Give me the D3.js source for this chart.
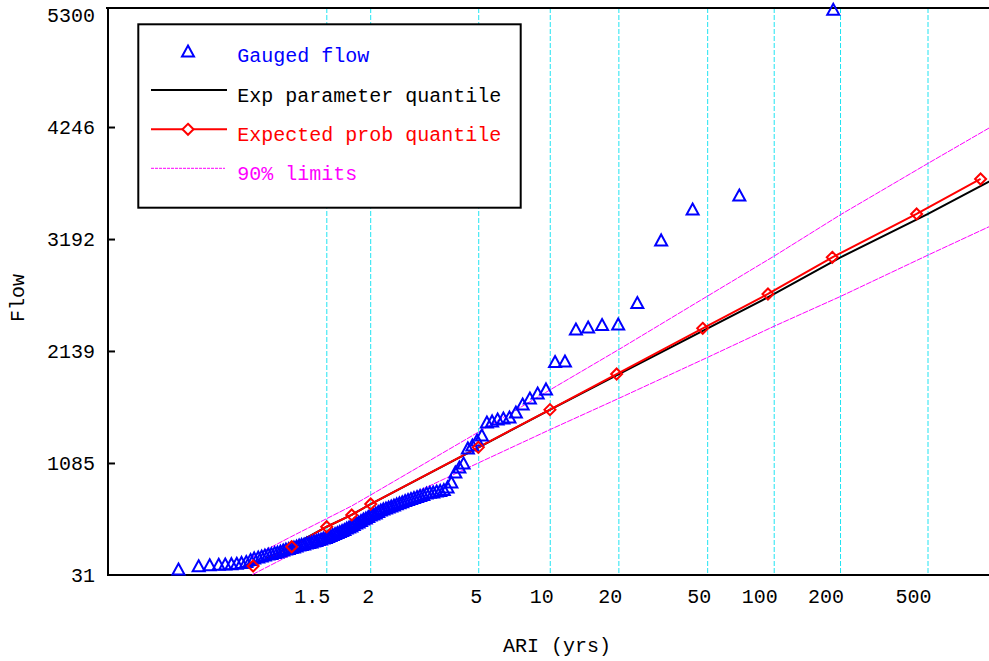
<!DOCTYPE html>
<html>
<head>
<meta charset="utf-8">
<script src="https://cdn.jsdelivr.net/npm/d3@7"></script>
<style>
  body { margin: 0; background: #fff; }
  svg text { font-family: "Liberation Mono", "Courier New", monospace; font-size: 20px; }
</style>
</head>
<body>
<script>
// axis ticks
const ariTicks = [1.5, 2, 5, 10, 20, 50, 100, 200, 500];
const ariLabels = ['1.5', '2', '5', '10', '20', '50', '100', '200', '500'];
const flowTicks = [31, 1085, 2139, 3192, 4246, 5300];

// gauged annual maxima, ranked, with their plotting ARI
const gaugedAri = [
  185.3, 69.50, 42.77, 30.89, 24.17, 19.86, 16.85, 14.63, 12.93, 11.58,
  10.49, 9.586, 8.825, 8.176, 7.616, 7.128, 6.699, 6.318, 5.978, 5.673,
  5.398, 5.148, 4.920, 4.712, 4.520, 4.344, 4.180, 4.029, 3.888, 3.757,
  3.634, 3.519, 3.411, 3.310, 3.214, 3.124, 3.038, 2.957, 2.881, 2.808,
  2.739, 2.673, 2.610, 2.550, 2.493, 2.439, 2.386, 2.336, 2.288, 2.242,
  2.198, 2.155, 2.114, 2.075, 2.037, 2.000, 1.965, 1.931, 1.898, 1.866,
  1.835, 1.805, 1.776, 1.748, 1.721, 1.695, 1.670, 1.645, 1.621, 1.598,
  1.575, 1.553, 1.532, 1.511, 1.491, 1.471, 1.452, 1.433, 1.415, 1.397,
  1.380, 1.363, 1.346, 1.330, 1.314, 1.299, 1.284, 1.269, 1.255, 1.241,
  1.227, 1.214, 1.201, 1.188, 1.176, 1.163, 1.151, 1.139, 1.128, 1.117,
  1.105, 1.095, 1.084, 1.073, 1.063, 1.053, 1.043, 1.034, 1.024, 1.015,
  1.0055
];
const gaugedFlow = [
  5345, 3597, 3465, 3174, 2585, 2383, 2378, 2355, 2336, 2035,
  2030, 1772, 1734, 1687, 1630, 1555, 1508, 1499, 1489, 1471,
  1461, 1339, 1292, 1245, 1217, 1075, 1038, 991, 897, 850,
  826, 817, 812, 803, 800, 793, 779, 770, 760, 751,
  741, 732, 722, 711, 701, 691, 680, 671, 661, 652,
  643, 633, 619, 605, 596, 586, 572, 558, 548, 534,
  520, 511, 497, 483, 473, 464, 450, 440, 431, 421,
  412, 403, 393, 384, 374, 370, 360, 356, 346, 341,
  332, 327, 323, 313, 309, 304, 294, 285, 280, 271,
  266, 257, 247, 238, 233, 224, 219, 210, 200, 191,
  182, 167, 148, 140, 132, 128, 125, 122, 118, 108,
  78
];

// fitted quantiles and 90% limits
const quantAri = [1.1, 1.25, 1.5, 1.75, 2, 5, 10, 20, 50, 100, 200, 500, 1000];
const quantFlow = [116, 297, 485, 596, 699, 1232, 1587, 1922, 2352, 2675, 3020, 3428, 3757];
const upperFlow = [200, 388, 562, 680, 784, 1377, 1774, 2153, 2656, 3032, 3421, 3904, 4264];
const lowerFlow = [35, 219, 403, 525, 610, 1087, 1400, 1693, 2079, 2372, 2652, 3041, 3330];

// expected probability quantiles
const expAri = [1.102, 1.257, 1.499, 1.752, 2.0, 4.98, 9.97, 19.55, 47.5, 93.7, 183.5, 443.8, 867.8];
const expFlow = [116, 297, 485, 596, 699, 1232, 1587, 1922, 2352, 2675, 3020, 3428, 3757];

const width = 989;
const height = 661;
const plotLeft = 108, plotTop = 8, plotBottom = 575, plotRight = 989;
const monoFont = '"Liberation Mono", "Courier New", monospace';

const gumbel = t => -Math.log(-Math.log(1 - 1 / t));

const x = d3.scaleLinear().domain([gumbel(2), gumbel(500)]).range([370.7, 928]);
const y = d3.scaleLinear().domain([31, 5300]).range([575, 15]);

const svg = d3.select('body')
    .append('svg')
    .attr('width', width)
    .attr('height', height);

svg.append('clipPath').attr('id', 'plot')
    .append('rect')
    .attr('x', plotLeft).attr('y', plotTop)
    .attr('width', plotRight - plotLeft).attr('height', plotBottom - plotTop);

// cyan grid
svg.append('g')
    .selectAll('line')
    .data(ariTicks)
    .enter()
    .append('line')
    .attr('x1', d => x(gumbel(d))).attr('x2', d => x(gumbel(d)))
    .attr('y1', plotTop).attr('y2', plotBottom)
    .attr('stroke', '#20e4f2')
    .attr('stroke-width', 1)
    .attr('stroke-dasharray', '5,2');

// x axis labels
svg.append('g')
    .attr('transform', `translate(0,${plotBottom})`)
    .call(d3.axisBottom(x)
        .tickValues(ariTicks.map(gumbel))
        .tickFormat((d, i) => ariLabels[i])
        .tickSize(0)
        .tickPadding(14))
    .call(g => g.select('.domain').remove())
    .call(g => g.selectAll('text')
        .attr('text-anchor', 'end')
        .attr('dx', 3)
        .attr('fill', '#000')
        .style('font-size', '20px')
        .style('font-family', monoFont));

// y axis, ticks point inward
svg.append('g')
    .attr('transform', `translate(${plotLeft},0)`)
    .call(d3.axisLeft(y)
        .tickValues(flowTicks)
        .tickFormat(d3.format('d'))
        .tickSize(-7)
        .tickPadding(13))
    .call(g => g.select('.domain').remove())
    .call(g => g.selectAll('.tick line')
        .attr('stroke', '#000')
        .attr('stroke-width', 2)
        .attr('opacity', d => (d === 31 || d === 5300) ? 0 : 1))
    .call(g => g.selectAll('text')
        .attr('fill', '#000')
        .style('font-size', '20px')
        .style('font-family', monoFont));

// frame
svg.append('path')
    .attr('d', `M${plotLeft - 2},${plotTop}H${plotRight}M${plotLeft},${plotTop}V${plotBottom}H${plotRight}`)
    .attr('fill', 'none')
    .attr('stroke', '#000')
    .attr('stroke-width', 2);

svg.append('text')
    .attr('transform', 'translate(24,298) rotate(-90)')
    .attr('text-anchor', 'middle')
    .text('Flow');

svg.append('text')
    .attr('x', 557).attr('y', 652)
    .attr('text-anchor', 'middle')
    .text('ARI (yrs)');

// legend
const legend = svg.append('g');
legend.append('rect')
    .attr('x', 138.3).attr('y', 24.3)
    .attr('width', 382.4).attr('height', 183.4)
    .attr('fill', '#fff')
    .attr('stroke', '#000')
    .attr('stroke-width', 2);

const triangle = 'M0,-6.5L6,4.5L-6,4.5Z';
const diamond = 'M0,-5.5L5.5,0L0,5.5L-5.5,0Z';

legend.append('path')
    .attr('d', triangle)
    .attr('transform', 'translate(188,52)')
    .attr('fill', 'none').attr('stroke', '#0000ff').attr('stroke-width', 2);
legend.append('line')
    .attr('x1', 151).attr('x2', 227).attr('y1', 90).attr('y2', 90)
    .attr('stroke', '#000').attr('stroke-width', 2);
legend.append('line')
    .attr('x1', 151).attr('x2', 227).attr('y1', 129.3).attr('y2', 129.3)
    .attr('stroke', '#ff0000').attr('stroke-width', 2);
legend.append('path')
    .attr('d', diamond)
    .attr('transform', 'translate(188,129.3)')
    .attr('fill', '#fff').attr('stroke', '#ff0000').attr('stroke-width', 2);
legend.append('line')
    .attr('x1', 151).attr('x2', 225).attr('y1', 168.3).attr('y2', 168.3)
    .attr('stroke', '#ff00ff').attr('stroke-width', 1)
    .attr('stroke-dasharray', '3,1');

const legendItems = [
    ['Gauged flow', '#0000ff', 62],
    ['Exp parameter quantile', '#000', 101.5],
    ['Expected prob quantile', '#ff0000', 141],
    ['90% limits', '#ff00ff', 180]
];
legend.selectAll('.ltext')
    .data(legendItems)
    .enter()
    .append('text')
    .attr('class', 'ltext')
    .attr('x', 237.3)
    .attr('y', d => d[2])
    .attr('fill', d => d[1])
    .text(d => d[0]);

// curves are clipped to the frame, markers are not
const plot = svg.append('g').attr('clip-path', 'url(#plot)');

const lineOf = (aris, flows) => d3.line()
    .x((d, i) => x(gumbel(aris[i])))
    .y(d => y(d))(flows);

plot.append('path')
    .attr('d', lineOf(quantAri, upperFlow))
    .attr('fill', 'none').attr('stroke', '#ff00ff').attr('stroke-width', 1)
    .attr('stroke-dasharray', '6,1');
plot.append('path')
    .attr('d', lineOf(quantAri, lowerFlow))
    .attr('fill', 'none').attr('stroke', '#ff00ff').attr('stroke-width', 1)
    .attr('stroke-dasharray', '6,1');

plot.append('path')
    .attr('d', lineOf(quantAri, quantFlow))
    .attr('fill', 'none').attr('stroke', '#000').attr('stroke-width', 2);

plot.append('path')
    .attr('d', lineOf(expAri, expFlow))
    .attr('fill', 'none').attr('stroke', '#ff0000').attr('stroke-width', 2);

svg.append('g').selectAll('.gauged')
    .data(gaugedFlow)
    .enter()
    .append('path')
    .attr('class', 'gauged')
    .attr('d', triangle)
    .attr('transform', (d, i) => `translate(${x(gumbel(gaugedAri[i]))},${y(d)})`)
    .attr('fill', 'none')
    .attr('stroke', '#0000ff')
    .attr('stroke-width', 2);

svg.append('g').selectAll('.expected')
    .data(expFlow)
    .enter()
    .append('path')
    .attr('class', 'expected')
    .attr('d', diamond)
    .attr('transform', (d, i) => `translate(${x(gumbel(expAri[i]))},${y(d)})`)
    .attr('fill', 'none')
    .attr('stroke', '#ff0000')
    .attr('stroke-width', 2);
</script>
</body>
</html>
